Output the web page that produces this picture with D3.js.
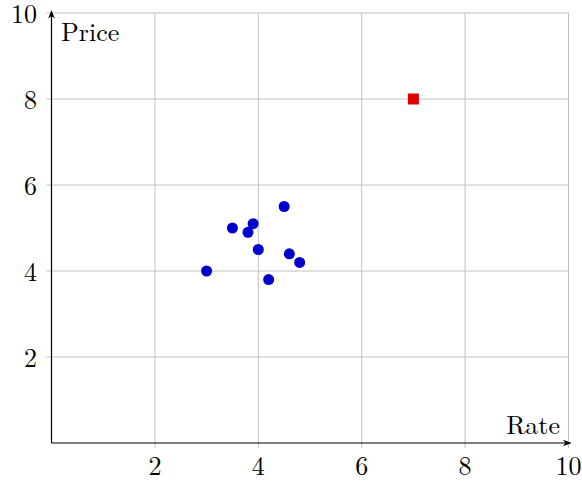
<!DOCTYPE html>
<html><head><meta charset="utf-8">
<script src="https://cdn.jsdelivr.net/npm/d3@7"></script>
<style>body{margin:0;background:#fff}svg{display:block}text{font-family:"Latin Modern Roman","Liberation Serif","DejaVu Serif",serif}</style>
</head><body>
<svg id="c" width="582" height="482"></svg>
<script>
const rateVals = [3, 3.5, 3.8, 3.9, 4, 4.2, 4.5, 4.6, 4.8];
const priceVals = [4, 5, 4.9, 5.1, 4.5, 3.8, 5.5, 4.4, 4.2];
const outlierRate = [7];
const outlierPrice = [8];
const xTicks = [2, 4, 6, 8, 10];
const yTicks = [2, 4, 6, 8, 10];

const svg = d3.select("#c");
const x = d3.scaleLinear().domain([0, 10]).range([51.5, 568.5]);
const y = d3.scaleLinear().domain([0, 10]).range([443, 13]);
const grid = "#c0c0c0";
const fs = 26;

// grid
svg.append("g").selectAll("line").data(xTicks).join("line")
  .attr("x1", d => x(d)).attr("x2", d => x(d)).attr("y1", y(10)).attr("y2", y(0) + 5)
  .attr("stroke", grid).attr("stroke-width", 1);
svg.append("g").selectAll("line").data(yTicks).join("line")
  .attr("y1", d => y(d)).attr("y2", d => y(d)).attr("x1", x(0) - 5).attr("x2", x(10))
  .attr("stroke", grid).attr("stroke-width", 1);

// axes with arrows
const defs = svg.append("defs");
defs.append("marker").attr("id", "arr").attr("viewBox", "0 0 10 10").attr("refX", 9).attr("refY", 5)
  .attr("markerWidth", 7).attr("markerHeight", 7).attr("orient", "auto")
  .append("path").attr("d", "M0,1 L10,5 L0,9 L3,5 Z").attr("fill", "#000");
svg.append("line").attr("x1", x(0)).attr("x2", x(10) + 2).attr("y1", y(0)).attr("y2", y(0))
  .attr("stroke", "#000").attr("stroke-width", 1.2).attr("marker-end", "url(#arr)");
svg.append("line").attr("x1", x(0)).attr("x2", x(0)).attr("y1", y(0)).attr("y2", y(10) - 2)
  .attr("stroke", "#000").attr("stroke-width", 1.2).attr("marker-end", "url(#arr)");

// tick labels
svg.append("g").selectAll("text").data(xTicks).join("text")
  .attr("x", d => x(d)).attr("y", 475).attr("text-anchor", "middle")
  .attr("font-size", fs).text(d => d);
svg.append("g").selectAll("text").data(yTicks).join("text")
  .attr("x", 37).attr("y", d => y(d) + 9.5).attr("text-anchor", "end")
  .attr("font-size", fs).text(d => d);

// axis labels
svg.append("text").attr("x", 61).attr("y", 41).attr("font-size", fs).text("Price");
svg.append("text").attr("x", 560).attr("y", 434).attr("text-anchor", "end").attr("font-size", fs).text("Rate");

// points
svg.append("g").selectAll("circle").data(rateVals.map((r, i) => [r, priceVals[i]])).join("circle")
  .attr("cx", d => x(d[0])).attr("cy", d => y(d[1])).attr("r", 5.5).attr("fill", "#0000cc");
svg.append("g").selectAll("rect").data(outlierRate.map((r, i) => [r, outlierPrice[i]])).join("rect")
  .attr("x", d => x(d[0]) - 5.5).attr("y", d => y(d[1]) - 5.5).attr("width", 11).attr("height", 11)
  .attr("fill", "#dd0000");
</script>
</body></html>
